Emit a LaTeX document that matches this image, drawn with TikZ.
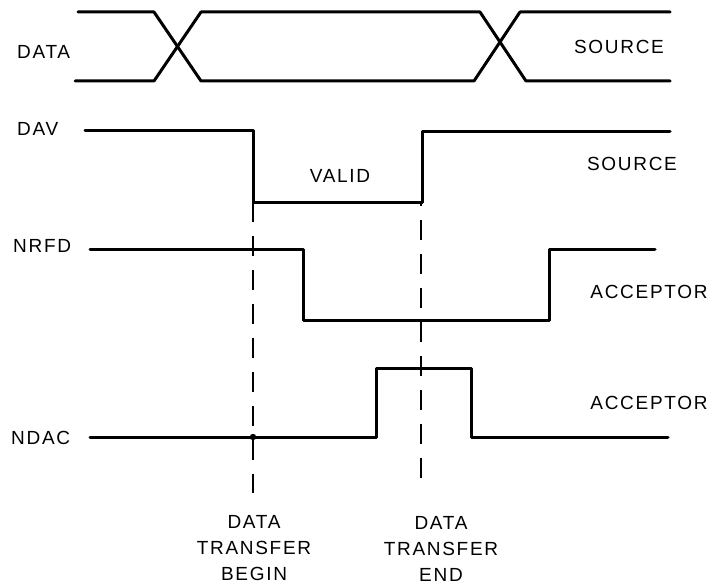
\documentclass[tikz,border=0pt]{standalone}
\usepackage{fontspec}
\setmainfont{Liberation Sans}[LetterSpace=9]
\begin{document}
\begin{tikzpicture}[x=1pt,y=-1pt,
  sig/.style={line width=3pt,line join=round,line cap=round},
  dashline/.style={line width=2.2pt,dash pattern=on 20pt off 14pt},
  lbl/.style={font=\fontsize{19}{26}\selectfont,inner sep=0pt},
  lleft/.style={lbl,anchor=west},
  bottomlbl/.style={lbl,align=center}]
\useasboundingbox (0,0) rectangle (726,586);
% labels
\node[lleft] (ldata) at (17,52) {DATA};
\node[lleft] (ldav) at (17,129) {DAV};
\node[lleft] (lnrfd) at (13,246) {NRFD};
\node[lleft] (lndac) at (11,438) {NDAC};
\node[lbl] (src1) at (619,47) {SOURCE};
\node[lbl] (src2) at (632,164) {SOURCE};
\node[lbl] (valid) at (340,176) {VALID};
\node[lbl] (acc1) at (649,292) {ACCEPTOR};
\node[lbl] (acc2) at (649,403) {ACCEPTOR};
\node[bottomlbl] (begin) at (254,548) {DATA\\TRANSFER\\BEGIN};
\node[bottomlbl] (endl) at (441,549) {DATA\\TRANSFER\\END};
% DATA bus
\draw[sig] (78,12) -- (154,12) -- (201,81) -- (474,81) -- (520,12) -- (670,12);
\draw[sig] (75,81) -- (154,81) -- (201,12) -- (480,12) -- (526,81) -- (670,81);
% DAV
\draw[sig] (85,130) -- (253,130) -- (253,202) -- (422,202) -- (422,131) -- (670,131);
% NRFD
\draw[sig] (90,249) -- (303,249) -- (303,320) -- (549,320) -- (549,249) -- (655,249);
% NDAC
\draw[sig] (90,437) -- (376,437) -- (376,368) -- (471,368) -- (471,437) -- (668,437);
% dashed markers
\coordinate (d1top) at (253,202);
\coordinate (d1bot) at (253,493);
\coordinate (d2top) at (421,203);
\coordinate (d2bot) at (421,478);
\draw[dashline] (d1top) -- (d1bot);
\draw[dashline,dash phase=17pt] (d2top) -- (d2bot);
\fill (253,437) circle (3.2pt);
\end{tikzpicture}
\end{document}
